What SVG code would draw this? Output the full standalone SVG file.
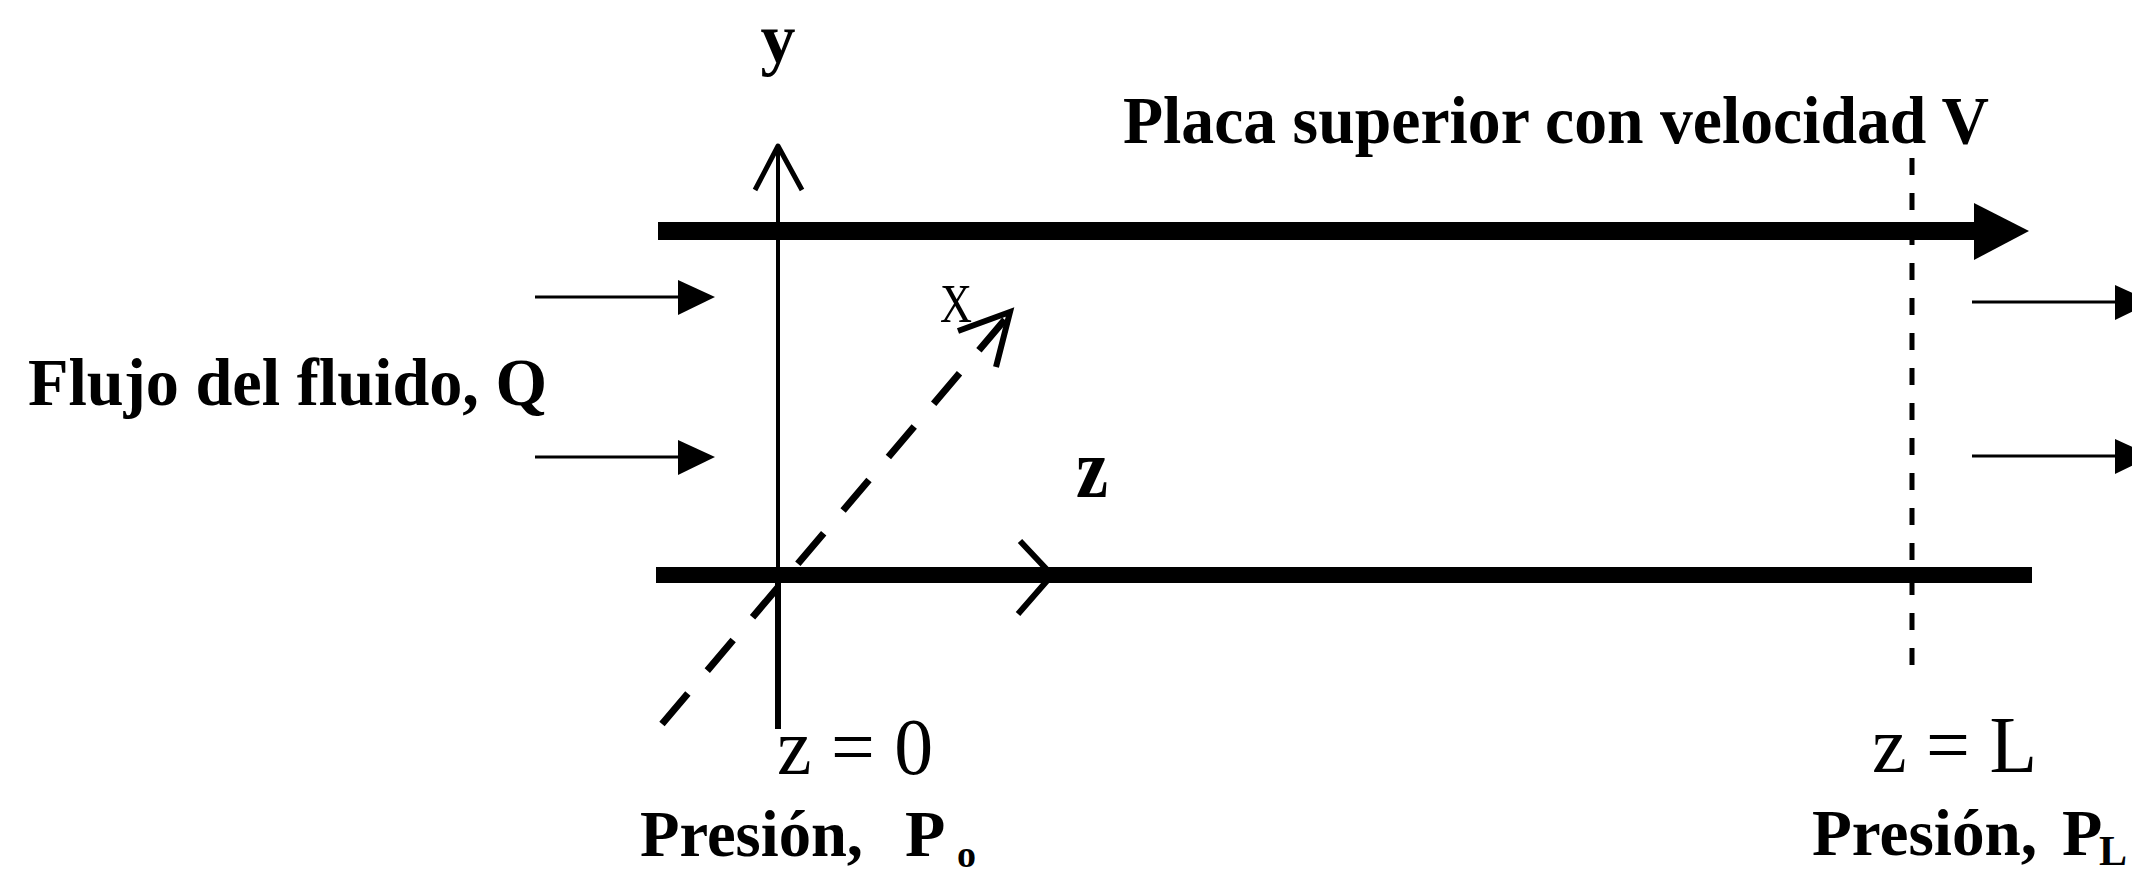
<svg xmlns="http://www.w3.org/2000/svg" width="2132" height="874" viewBox="0 0 2132 874">
<style>
.b{font-family:"Liberation Serif","Times New Roman",serif;font-weight:bold;fill:#000}
.r{font-family:"Liberation Serif","Times New Roman",serif;fill:#000}
.ln{stroke:#000;fill:none}
</style>
<rect width="2132" height="874" fill="#fff"/>
<g id="connectors">
  <!-- y axis -->
  <line class="ln" x1="778" y1="146" x2="778" y2="575" stroke-width="4"/>
  <line class="ln" x1="778" y1="575" x2="778" y2="729" stroke-width="6"/>
  <polyline class="ln" points="755,190 778,146 802,190" stroke-width="5" stroke-linejoin="round"/>
  <!-- x axis dashed -->
  <line class="ln" x1="662" y1="724" x2="1008" y2="316" stroke-width="7" stroke-dasharray="40 30"/>
  <polyline class="ln" points="958,331 1010,312 996,367" stroke-width="6"/>
  <!-- inflow arrows -->
  <line class="ln" x1="535" y1="297" x2="690" y2="297" stroke-width="3"/>
  <polygon points="678,280 715,297 678,315" fill="#000"/>
  <line class="ln" x1="535" y1="457" x2="690" y2="457" stroke-width="3"/>
  <polygon points="678,440 715,457 678,475" fill="#000"/>
  <!-- outflow arrows -->
  <line class="ln" x1="1972" y1="302" x2="2120" y2="302" stroke-width="3"/>
  <polygon points="2115,285 2152,302 2115,320" fill="#000"/>
  <line class="ln" x1="1972" y1="456" x2="2120" y2="456" stroke-width="3"/>
  <polygon points="2115,439 2152,456 2115,474" fill="#000"/>
  <!-- z = L dashed line -->
  <line class="ln" x1="1912" y1="158" x2="1912" y2="672" stroke-width="5" stroke-dasharray="17 18"/>
</g>
<g id="top-plate">
  <rect x="658" y="222" width="1320" height="18" fill="#000"/>
  <polygon points="1974,203 2029,231 1974,260" fill="#000"/>
</g>
<g id="bottom-plate">
  <rect x="656" y="567" width="1376" height="16" fill="#000"/>
  <polyline class="ln" points="1020,541 1052,575 1018,614" stroke-width="6"/>
</g>
<g id="labels">
  <text class="b" x="778" y="62" font-size="70" text-anchor="middle">y</text>
  <text class="b" x="1123" y="143" font-size="68" textLength="866" lengthAdjust="spacingAndGlyphs">Placa superior con velocidad V</text>
  <text class="b" x="28" y="405" font-size="68" textLength="519" lengthAdjust="spacingAndGlyphs">Flujo del fluido, Q</text>
  <text class="r" x="940" y="322" font-size="54" textLength="32" lengthAdjust="spacingAndGlyphs">X</text>
  <text class="b" x="1076" y="497" font-size="84" textLength="32" lengthAdjust="spacingAndGlyphs">z</text>
  <text class="r" x="777" y="774" font-size="80" textLength="156" lengthAdjust="spacingAndGlyphs">z = 0</text>
  <text class="b" x="640" y="856" font-size="66" textLength="223" lengthAdjust="spacingAndGlyphs">Presión,</text>
  <text class="b" x="905" y="856" font-size="66">P</text>
  <text class="b" x="957" y="867" font-size="38">o</text>
  <text class="r" x="1872" y="772" font-size="80" textLength="165" lengthAdjust="spacingAndGlyphs">z = L</text>
  <text class="b" x="1812" y="855" font-size="66" textLength="225" lengthAdjust="spacingAndGlyphs">Presión,</text>
  <text class="b" x="2062" y="855" font-size="66">P</text>
  <text class="b" x="2099" y="865" font-size="42">L</text>
</g>
</svg>
